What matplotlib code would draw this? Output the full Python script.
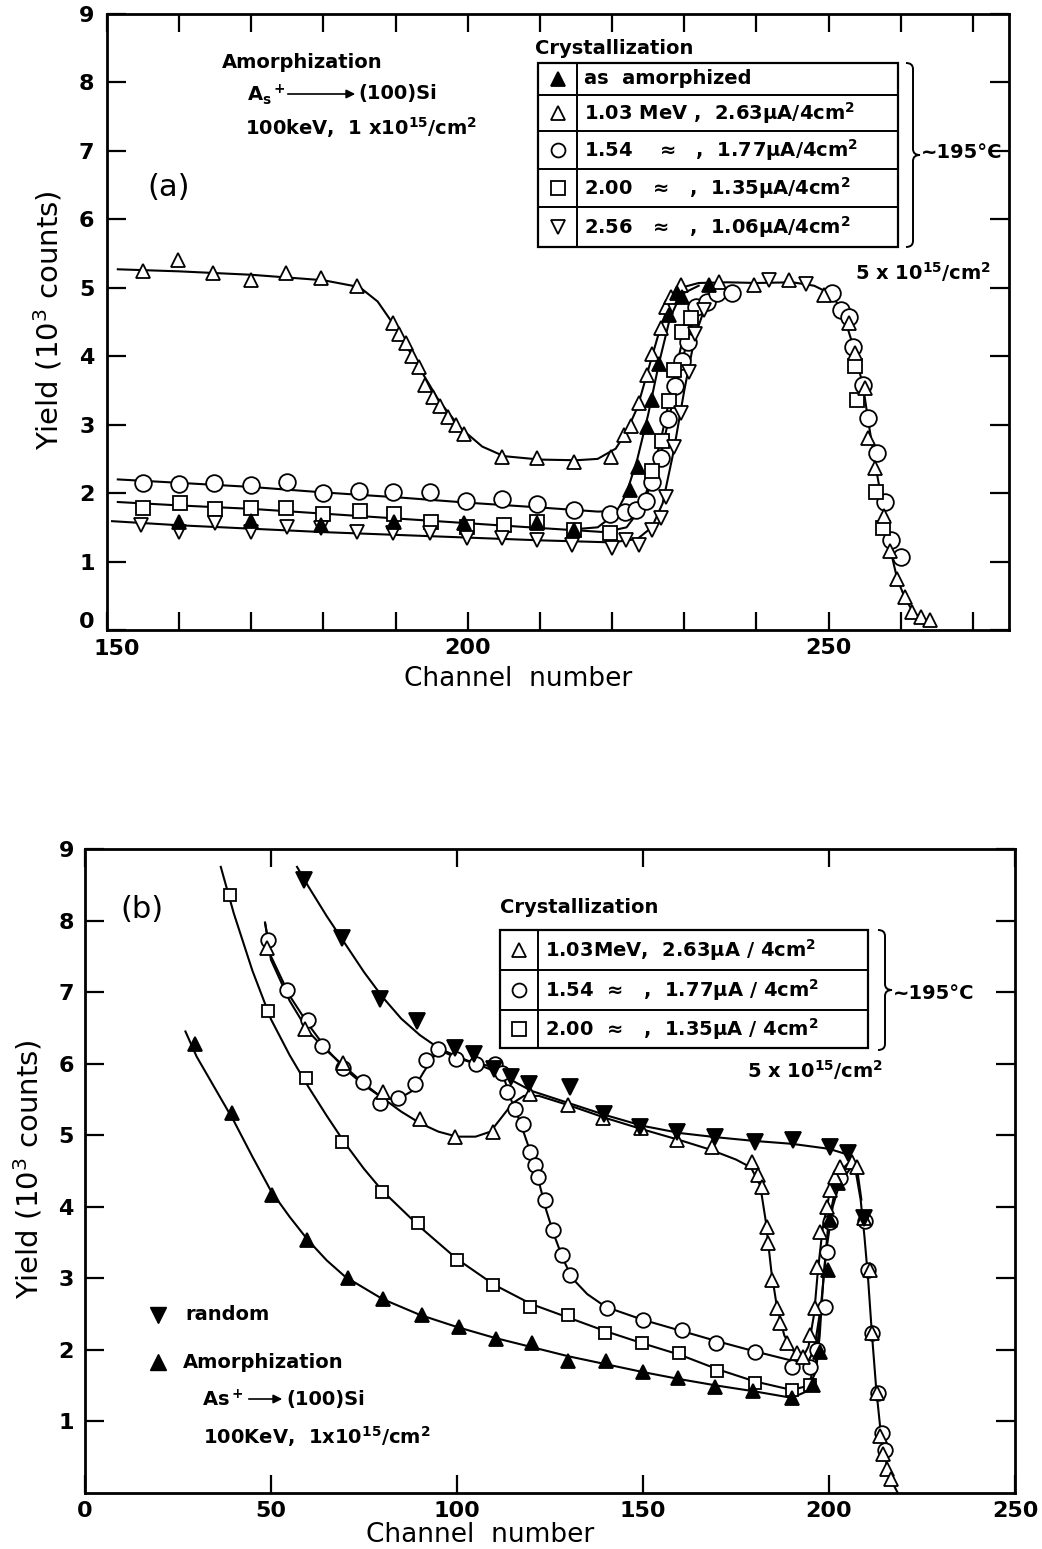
import numpy as np
import matplotlib.pyplot as plt
from matplotlib.lines import Line2D
from matplotlib.patches import Rectangle, PathPatch, FancyArrowPatch
from matplotlib.path import Path

W, H = 1042, 1549

plt.rcParams['font.family'] = ['DejaVu Sans']
plt.rcParams['mathtext.default'] = 'regular'

# ---- (a) measured spectra, channel vs yield (10^3 counts) ----
a_amorph = [(160, 1.58), (170, 1.59), (179.7, 1.53), (189.8, 1.58), (199.5, 1.56),
            (209.6, 1.56), (214.7, 1.46), (222.5, 2.04), (223.6, 2.38), (224.8, 2.96),
            (225.5, 3.36), (226.5, 3.89), (227.9, 4.6), (229, 4.92), (229.7, 4.86),
            (233.4, 5.04)]
a_103 = [(155, 5.24), (159.8, 5.40), (164.7, 5.22), (169.9, 5.12), (174.8, 5.21),
         (179.7, 5.15), (184.6, 5.02), (189.6, 4.48), (190.5, 4.32), (191.4, 4.19),
         (192.2, 4.01), (193.2, 3.84), (194, 3.58), (195.2, 3.40), (196.2, 3.28),
         (197.3, 3.11), (198.3, 2.99), (199.5, 2.86), (204.8, 2.53), (209.6, 2.51),
         (214.7, 2.45), (219.8, 2.53), (221.6, 2.85), (222.6, 2.98), (223.7, 3.31),
         (224.8, 3.72), (225.5, 4.03), (226.8, 4.41), (227.5, 4.72), (228.1, 4.86),
         (229.5, 5.04), (234.8, 5.08), (239.6, 5.04), (244.5, 5.11), (249.3, 4.89),
         (252.8, 4.48), (253.7, 4.05), (255.1, 3.54), (255.4, 2.80), (256.4, 2.36),
         (257.7, 1.66), (258.5, 1.15), (259.5, 0.75), (260.6, 0.48), (261.6, 0.26),
         (262.8, 0.19), (264, 0.15)]
a_154 = [(155, 2.15), (160, 2.13), (164.8, 2.15), (170, 2.12), (174.9, 2.16),
         (179.9, 2.0), (184.9, 2.03), (189.7, 2.01), (194.7, 2.02), (199.7, 1.88),
         (204.8, 1.91), (209.6, 1.84), (214.7, 1.75), (219.7, 1.69), (221.8, 1.72),
         (223.3, 1.76), (224.7, 1.88), (225.5, 2.16), (226.8, 2.52), (227.8, 3.08),
         (228.7, 3.56), (229.7, 3.93), (230.5, 4.21), (231.6, 4.72), (233.1, 4.79),
         (234.5, 4.93), (236.6, 4.93), (250.5, 4.93), (251.7, 4.68), (252.8, 4.57),
         (253.4, 4.13), (254.8, 3.58), (255.5, 3.10), (256.7, 2.58), (257.8, 1.87),
         (258.7, 1.32), (260.1, 1.06)]
a_200 = [(155, 1.78), (160.1, 1.85), (164.9, 1.77), (169.9, 1.78), (174.8, 1.78),
         (179.9, 1.69), (185, 1.74), (189.8, 1.69), (194.9, 1.58), (199.9, 1.51),
         (205, 1.53), (209.6, 1.58), (214.7, 1.46), (219.7, 1.42), (225.5, 2.33),
         (226.9, 2.76), (227.9, 3.35), (228.6, 3.80), (229.7, 4.35), (230.9, 4.56),
         (253.7, 3.86), (254, 3.36), (256.6, 2.01), (257.6, 1.49)]
a_256 = [(154.7, 1.53), (160, 1.43), (164.9, 1.56), (169.9, 1.43), (174.9, 1.51),
         (179.7, 1.49), (184.7, 1.43), (189.7, 1.42), (194.7, 1.42), (199.9, 1.34),
         (204.8, 1.34), (209.6, 1.31), (214.5, 1.24), (220, 1.20), (221.9, 1.31),
         (223.7, 1.24), (225.5, 1.46), (226.8, 1.64), (227.4, 1.94), (228.6, 2.67),
         (229.6, 3.17), (230.7, 3.77), (231.5, 4.33), (232.7, 4.67), (241.7, 5.11),
         (246.9, 5.05)]

# smooth guide curves drawn through each set
a_103_curve = [(151.5, 5.27), (160, 5.24), (170, 5.19), (180, 5.11), (185, 5.01),
               (187.5, 4.8), (190, 4.42), (193, 3.88), (196, 3.35), (199, 2.95),
               (202, 2.68), (205, 2.54), (210, 2.49), (215, 2.48), (218, 2.5),
               (220.5, 2.65), (222, 2.9), (223.5, 3.25), (225, 3.8), (226.5, 4.35),
               (228, 4.8), (229.5, 5.0), (232, 5.07), (236, 5.08), (240, 5.07),
               (245, 5.08), (248, 5.03), (250.5, 4.9), (252, 4.62), (253.5, 4.12),
               (254.8, 3.55), (255.5, 3.05), (256.5, 2.4), (257.7, 1.7), (258.5, 1.2),
               (259.5, 0.75), (260.6, 0.46), (261.8, 0.25), (263.5, 0.14), (264.5, 0.12)]
a_154_curve = [(151.5, 2.2), (160, 2.15), (170, 2.09), (180, 2.01), (190, 1.94),
               (200, 1.86), (210, 1.79), (218, 1.73), (221, 1.74), (223.5, 1.82),
               (225, 2.02), (226.5, 2.45), (228, 3.15), (229.5, 3.85), (231, 4.45),
               (232.5, 4.8), (235, 4.97)]
a_200_curve = [(151.5, 1.87), (160, 1.82), (170, 1.77), (180, 1.70), (190, 1.63),
               (200, 1.56), (210, 1.49), (219, 1.43), (222, 1.5), (224, 1.78),
               (225.5, 2.25), (227, 2.9), (228.5, 3.65), (230, 4.35), (231.5, 4.72),
               (234, 4.97)]
a_256_curve = [(150.7, 1.59), (160, 1.53), (170, 1.48), (180, 1.43), (190, 1.39),
               (200, 1.35), (210, 1.31), (220, 1.28), (223.5, 1.33), (225.5, 1.5),
               (227, 1.85), (228.5, 2.6), (230, 3.5), (231.5, 4.3), (233, 4.75),
               (235, 4.98)]
a_amorph_curve = [(214.5, 1.47), (218, 1.5), (220.5, 1.7), (222, 2.0), (223.5, 2.5),
                  (225, 3.15), (226.5, 3.9), (228, 4.55), (229.5, 4.9), (232, 5.03)]

# ---- (b) measured spectra ----
b_random = [(59, 8.57), (69, 7.76), (79.3, 6.90), (89.2, 6.59), (99.5, 6.22),
            (104.5, 6.13), (110, 5.93), (114.5, 5.81), (119.3, 5.71), (130.4, 5.67),
            (139.5, 5.30), (149.2, 5.12), (159.2, 5.05), (169.4, 4.97), (180.1, 4.90),
            (190.2, 4.94), (200.3, 4.84), (205.1, 4.75), (209.3, 3.85)]
b_amorph = [(29.6, 6.27), (39.5, 5.31), (50.3, 4.17), (59.7, 3.54), (70.7, 3.0),
            (80.1, 2.71), (90.6, 2.49), (100.5, 2.32), (110.5, 2.15), (120.2, 2.10),
            (129.8, 1.85), (140, 1.85), (150, 1.69), (159.4, 1.61), (169.4, 1.48),
            (179.6, 1.43), (190, 1.33), (195.7, 1.51), (197.6, 1.97), (199.7, 3.12),
            (200.3, 3.82), (202.4, 4.33)]
b_103 = [(48.9, 7.62), (59.1, 6.48), (69.4, 6.01), (80.1, 5.61), (90.1, 5.22),
         (99.5, 4.98), (109.7, 5.05), (119.6, 5.58), (129.8, 5.42), (139.2, 5.24),
         (149.5, 5.10), (159.1, 4.94), (168.5, 4.83), (179.3, 4.63), (181, 4.45),
         (182, 4.28), (183.3, 3.72), (183.6, 3.50), (184.7, 2.98), (186, 2.59),
         (186.8, 2.38), (188.7, 2.10), (191.4, 1.96), (193, 1.90), (194.9, 2.21),
         (196.2, 2.59), (196.8, 3.16), (197.6, 3.65), (199.5, 4.0), (200.3, 4.24),
         (201.6, 4.42), (203, 4.55), (206.2, 4.62), (207.5, 4.56), (209.3, 3.85),
         (211, 3.12), (211.5, 2.24), (212.9, 1.40), (213.7, 0.80), (214.6, 0.55),
         (215.5, 0.34), (216.6, 0.20)]
b_154 = [(49.2, 7.73), (54.3, 7.03), (60, 6.61), (63.7, 6.24), (69.4, 5.94),
         (74.7, 5.75), (79.3, 5.45), (84.2, 5.52), (88.7, 5.71), (91.7, 6.05),
         (94.9, 6.20), (99.8, 6.06), (105, 5.99), (110.2, 5.99), (112.1, 5.87),
         (113.4, 5.61), (115.6, 5.36), (117.7, 5.15), (119.6, 4.77), (121, 4.59),
         (121.8, 4.41), (123.7, 4.10), (125.8, 3.68), (128.2, 3.33), (130.4, 3.05),
         (140.3, 2.59), (150, 2.42), (160.5, 2.28), (169.6, 2.10), (180.1, 1.97),
         (190, 1.76), (194.9, 1.76), (196.8, 2.0), (198.9, 2.60), (199.5, 3.37),
         (200.3, 3.79), (203, 4.40), (209.7, 3.80), (210.5, 3.12), (211.5, 2.24),
         (213.2, 1.40), (214.2, 0.84), (215, 0.60)]
b_200 = [(39, 8.36), (49.2, 6.73), (59.4, 5.80), (69.1, 4.91), (79.8, 4.21),
         (89.5, 3.78), (100, 3.26), (109.7, 2.91), (119.6, 2.60), (129.8, 2.49),
         (139.8, 2.24), (149.8, 2.10), (159.7, 1.96), (169.8, 1.70), (180.1, 1.54),
         (190, 1.44), (194.9, 1.51)]

b_random_curve = [(57, 8.75), (60, 8.48), (65, 8.06), (70, 7.67), (75, 7.28),
                  (80, 6.93), (85, 6.63), (90, 6.4), (95, 6.22), (100, 6.1),
                  (110, 5.9), (120, 5.62), (130, 5.45), (140, 5.28), (150, 5.13),
                  (160, 5.03), (170, 4.97), (180, 4.92), (190, 4.88), (200, 4.81),
                  (205, 4.73), (207, 4.55), (208.5, 4.1), (209.5, 3.6), (210.5, 3.0),
                  (211.5, 2.25), (212.7, 1.45), (214, 0.8), (215.5, 0.4), (217, 0.15),
                  (218.5, 0.0)]
b_103_curve = [(48.4, 7.97), (50, 7.45), (55, 6.88), (60, 6.45), (65, 6.18),
               (70, 5.95), (75, 5.72), (80, 5.52), (85, 5.33), (90, 5.17), (95, 5.05),
               (100, 4.98), (105, 4.98), (109, 5.05), (112, 5.25), (115, 5.45),
               (118, 5.55), (122, 5.55), (130, 5.42), (140, 5.24), (150, 5.08),
               (160, 4.93), (168, 4.8), (175, 4.66), (179, 4.55), (181.5, 4.3),
               (183, 3.8), (184.5, 3.1), (186, 2.6), (188, 2.2), (190.5, 1.98),
               (193, 1.9), (194.5, 2.05), (196, 2.5), (197, 3.1), (198.3, 3.7),
               (200, 4.15), (202, 4.45), (205, 4.6), (207.5, 4.55), (208.7, 4.1)]
b_154_curve = [(48.4, 7.97), (50, 7.5), (55, 6.95), (60, 6.55), (65, 6.2), (70, 5.92),
               (75, 5.7), (80, 5.52), (84, 5.5), (88, 5.62), (91, 5.88), (94, 6.12),
               (97, 6.15), (100, 6.08), (105, 6.0), (110, 5.96), (112.5, 5.82),
               (114.5, 5.5), (117, 5.18), (119.5, 4.8), (122, 4.35), (124, 3.95),
               (126, 3.62), (128.5, 3.27), (131, 3.0), (135, 2.78), (140, 2.6),
               (150, 2.42), (160, 2.27), (170, 2.12), (180, 1.98), (190, 1.85),
               (194, 1.8), (196, 2.0), (197.8, 2.6), (199.3, 3.4), (201, 4.0),
               (203, 4.35), (206, 4.55)]
b_200_curve = [(36.5, 8.75), (40, 8.1), (45, 7.3), (50, 6.62), (55, 6.12), (60, 5.68),
               (65, 5.27), (70, 4.88), (75, 4.53), (80, 4.22), (90, 3.72), (100, 3.27),
               (110, 2.91), (120, 2.64), (130, 2.45), (140, 2.26), (150, 2.09),
               (160, 1.93), (170, 1.73), (180, 1.56), (190, 1.44), (194.5, 1.5),
               (196.5, 1.85), (197.5, 2.4)]
b_amorph_curve = [(27, 6.45), (30, 6.1), (35, 5.65), (40, 5.2), (45, 4.7), (50, 4.22),
                  (55, 3.86), (60, 3.53), (65, 3.25), (70, 3.02), (80, 2.71),
                  (90, 2.49), (100, 2.32), (110, 2.17), (120, 2.04), (130, 1.91),
                  (140, 1.8), (150, 1.69), (160, 1.59), (170, 1.5), (180, 1.42),
                  (190, 1.33), (194, 1.42), (196.5, 1.7), (197.5, 2.2), (198.5, 3.0),
                  (199.8, 3.75), (201.5, 4.2), (204, 4.5), (206, 4.6)]

legend_a = ["as  amorphized",
            "1.03 MeV ,  2.63$\\mu$A/4cm$^2$",
            "1.54    \u2248   ,  1.77$\\mu$A/4cm$^2$",
            "2.00   \u2248   ,  1.35$\\mu$A/4cm$^2$",
            "2.56   \u2248   ,  1.06$\\mu$A/4cm$^2$"]
legend_b = ["1.03MeV,  2.63$\\mu$A / 4cm$^2$",
            "1.54  \u2248   ,  1.77$\\mu$A / 4cm$^2$",
            "2.00  \u2248   ,  1.35$\\mu$A / 4cm$^2$"]

FONT_TICK = 16
FONT_ANN = 14


def fx(x):
    return x / W


def fy(y):
    return 1 - y / H


def series(ax, curve, pts, marker, ms, filled=False, mew=1.3):
    cx, cy = np.array(curve).T
    ax.plot(cx, cy, '-', color='k', lw=1.5, zorder=2)
    px, py = np.array(pts).T
    ax.plot(px, py, ls='none', marker=marker, ms=ms,
            mfc='k' if filled else 'white', mec='k', mew=mew, zorder=3)


def brace(fig, x0, yt, yb, w):
    ym = (yt + yb) / 2
    r = 6
    xm = x0 + w / 2
    pts = [(x0, yt), (xm, yt), (xm, yt + r), (xm, ym - r), (xm, ym), (x0 + w, ym),
           (xm, ym), (xm, ym + r), (xm, yb - r), (xm, yb), (x0, yb)]
    codes = [Path.MOVETO, Path.CURVE3, Path.CURVE3, Path.LINETO, Path.CURVE3,
             Path.CURVE3, Path.CURVE3, Path.CURVE3, Path.LINETO, Path.CURVE3,
             Path.CURVE3]
    verts = [(fx(x), fy(y)) for x, y in pts]
    fig.add_artist(PathPatch(Path(verts, codes), fill=False, lw=1.4, color='k',
                             transform=fig.transFigure))


def table(fig, left, mid, right, rows, symbols, labels):
    for y0, y1, sym, lab in zip(rows[:-1], rows[1:], symbols, labels):
        yc = (y0 + y1) / 2
        m, filled = sym
        fig.add_artist(Line2D([fx((left + mid) / 2)], [fy(yc)], marker=m,
                              ms=10, mfc='k' if filled else 'white', mec='k',
                              mew=1.3, transform=fig.transFigure))
        fig.text(fx(mid + 7), fy(yc), lab, fontsize=FONT_ANN, fontweight='bold',
                 ha='left', va='center')
    fig.add_artist(Rectangle((fx(left), fy(rows[-1])), fx(right) - fx(left),
                             fy(rows[0]) - fy(rows[-1]), fill=False, lw=1.6,
                             transform=fig.transFigure))
    for y in rows[1:-1]:
        fig.add_artist(Line2D([fx(left), fx(right)], [fy(y), fy(y)], lw=1.4,
                              color='k', transform=fig.transFigure))
    fig.add_artist(Line2D([fx(mid), fx(mid)], [fy(rows[0]), fy(rows[-1])], lw=1.4,
                          color='k', transform=fig.transFigure))


def arrow(fig, x0, x1, y):
    fig.add_artist(FancyArrowPatch((fx(x0), fy(y)), (fx(x1), fy(y)),
                                   arrowstyle='-|>', mutation_scale=13, lw=1.2,
                                   color='k', transform=fig.transFigure))


def style_axes(ax):
    for s in ax.spines.values():
        s.set_linewidth(2.0)
    ax.tick_params(direction='in', top=True, right=True, width=1.6,
                   labelsize=FONT_TICK)
    for lab in ax.get_xticklabels() + ax.get_yticklabels():
        lab.set_fontweight('bold')


fig = plt.figure(figsize=(W / 100, H / 100), dpi=100)

# ---------------- panel (a) ----------------
ax1 = fig.add_axes([fx(107), fy(630), fx(1009) - fx(107), fy(14) - fy(630)])
series(ax1, a_154_curve, a_154, 'o', 12)
series(ax1, a_200_curve, a_200, 's', 10.5)
series(ax1, a_256_curve, a_256, 'v', 10.5)
series(ax1, a_103_curve, a_103, '^', 10.5)
series(ax1, a_amorph_curve, a_amorph, '^', 10.5, filled=True)
ax1.set_xlim(150, 275)
ax1.set_ylim(0, 9)
xt = list(range(150, 276, 10))
ax1.set_xticks(xt)
# the corner labels "0" and "150" are placed by hand below
ax1.set_xticklabels([str(t) if t in (200, 250) else '' for t in xt])
ax1.set_yticks(range(0, 10))
ax1.set_yticklabels([''] + [str(i) for i in range(1, 10)])
ax1.tick_params(axis='x', length=13, pad=6)
ax1.tick_params(axis='y', length=14, pad=9)
style_axes(ax1)
fig.text(fx(87), fy(622), '0', fontsize=FONT_TICK, fontweight='bold',
         ha='center', va='center')
fig.text(fx(117), fy(649), '150', fontsize=FONT_TICK, fontweight='bold',
         ha='center', va='center')

fig.text(fx(48), fy(320), 'Yield (10$^3$ counts)', rotation=90, fontsize=21,
         ha='center', va='center')
fig.text(fx(518), fy(679), 'Channel  number', fontsize=19, ha='center', va='center')

fig.text(fx(222), fy(62), 'Amorphization', fontsize=FONT_ANN, fontweight='bold',
         va='center')
fig.text(fx(247), fy(95), 'A$_s$$^+$', fontsize=FONT_ANN, fontweight='bold', va='center')
arrow(fig, 285, 358, 94)
fig.text(fx(358), fy(93), '(100)Si', fontsize=FONT_ANN, fontweight='bold', va='center')
fig.text(fx(245), fy(128), '100keV,  1 x10$^{15}$/cm$^2$', fontsize=FONT_ANN,
         fontweight='bold', va='center')
fig.text(fx(147), fy(187), '(a)', fontsize=22, va='center')
fig.text(fx(535), fy(48), 'Crystallization', fontsize=FONT_ANN, fontweight='bold',
         va='center')
table(fig, 538, 577, 898, [63, 95, 131, 169, 207, 247],
      [('^', True), ('^', False), ('o', False), ('s', False), ('v', False)], legend_a)
brace(fig, 906, 63, 247, 14)
fig.text(fx(921), fy(152), '~195°C', fontsize=FONT_ANN, fontweight='bold', va='center')
fig.text(fx(855), fy(272), '5 x 10$^{15}$/cm$^2$', fontsize=FONT_ANN,
         fontweight='bold', va='center')

# ---------------- panel (b) ----------------
ax2 = fig.add_axes([fx(85), fy(1493), fx(1015) - fx(85), fy(849) - fy(1493)])
series(ax2, b_154_curve, b_154, 'o', 10.5)
series(ax2, b_200_curve, b_200, 's', 9)
series(ax2, b_amorph_curve, b_amorph, '^', 10, filled=True)
series(ax2, b_103_curve, b_103, '^', 10)
series(ax2, b_random_curve, b_random, 'v', 11, filled=True)
ax2.set_xlim(0, 250)
ax2.set_ylim(0, 9)
ax2.set_xticks(range(0, 251, 50))
ax2.set_yticks(range(1, 10))
ax2.tick_params(axis='x', length=13, pad=6)
ax2.tick_params(axis='y', length=14, pad=8)
style_axes(ax2)

fig.text(fx(28), fy(1169), 'Yield (10$^3$ counts)', rotation=90, fontsize=21,
         ha='center', va='center')
fig.text(fx(480), fy(1535), 'Channel  number', fontsize=19, ha='center', va='center')

fig.text(fx(120), fy(910), '(b)', fontsize=22, va='center')
fig.text(fx(500), fy(907), 'Crystallization', fontsize=FONT_ANN, fontweight='bold',
         va='center')
table(fig, 500, 538, 868, [930, 970, 1010, 1048],
      [('^', False), ('o', False), ('s', False)], legend_b)
brace(fig, 878, 930, 1050, 14)
fig.text(fx(893), fy(993), '~195°C', fontsize=FONT_ANN, fontweight='bold', va='center')
fig.text(fx(747), fy(1070), '5 x 10$^{15}$/cm$^2$', fontsize=FONT_ANN,
         fontweight='bold', va='center')

fig.add_artist(Line2D([fx(158)], [fy(1315)], marker='v', ms=11, color='k',
                      transform=fig.transFigure))
fig.text(fx(185), fy(1315), 'random', fontsize=FONT_ANN, fontweight='bold', va='center')
fig.add_artist(Line2D([fx(158)], [fy(1362)], marker='^', ms=11, color='k',
                      transform=fig.transFigure))
fig.text(fx(183), fy(1362), 'Amorphization', fontsize=FONT_ANN, fontweight='bold',
         va='center')
fig.text(fx(202), fy(1400), 'As$^+$', fontsize=FONT_ANN, fontweight='bold', va='center')
arrow(fig, 246, 285, 1399)
fig.text(fx(286), fy(1400), '(100)Si', fontsize=FONT_ANN, fontweight='bold',
         va='center')
fig.text(fx(203), fy(1437), '100KeV,  1x10$^{15}$/cm$^2$', fontsize=FONT_ANN,
         fontweight='bold', va='center')

fig.savefig('out.png', dpi=100)
